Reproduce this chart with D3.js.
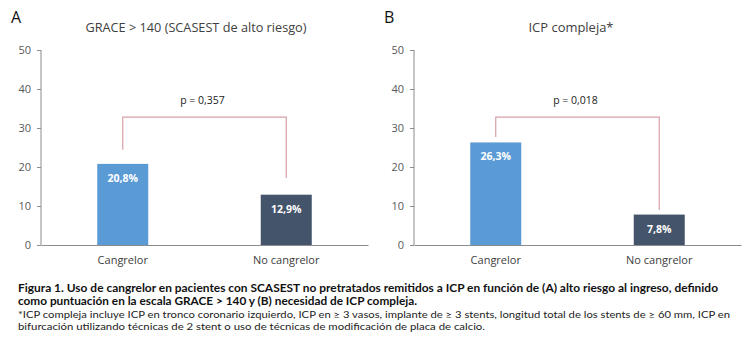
<!DOCTYPE html>
<html><head><meta charset="utf-8">
<script src="https://cdn.jsdelivr.net/npm/d3@7"></script>
<style>body{margin:0;background:#fff;} svg{display:block;font-family:"Open Sans",sans-serif;}</style>
</head><body>
<svg id="c" width="750" height="342"></svg>
<script>
const panelLetters = ["A", "B"];
const panelTitles = ["GRACE > 140 (SCASEST de alto riesgo)", "ICP compleja*"];
const categories = ["Cangrelor", "No cangrelor"];
const valuesA = [20.8, 12.9];
const valuesB = [26.3, 7.8];
const labelsA = ["20,8%", "12,9%"];
const labelsB = ["26,3%", "7,8%"];
const pLabels = ["p = 0,357", "p = 0,018"];
const bracketTop = [32.8, 32.8];
const bracketLegsA = [24.4, 17.2];
const bracketLegsB = [27.7, 9.0];
const yTicks = [0, 10, 20, 30, 40, 50];
const captionBold = [
  "Figura 1. Uso de cangrelor en pacientes con SCASEST no pretratados remitidos a ICP en función de (A) alto riesgo al ingreso, definido",
  "como puntuación en la escala GRACE > 140 y (B) necesidad de ICP compleja."
];
const captionNormal = [
  "*ICP compleja incluye ICP en tronco coronario izquierdo, ICP en ≥ 3 vasos, implante de ≥ 3 stents, longitud total de los stents de ≥ 60 mm, ICP en",
  "bifurcación utilizando técnicas de 2 stent o uso de técnicas de modificación de placa de calcio."
];

const colors = ["#5B9BD5", "#44546A"];
const svg = d3.select("#c");
const y = d3.scaleLinear().domain([0, 50]).range([245, 50]);
const x = d3.scaleBand().domain(categories).range([41, 368]).padding(0);
const barW = 51;

const panels = [
  {dx: 0, vals: valuesA, labs: labelsA, legs: bracketLegsA, titleX: 196, titleW: 221},
  {dx: 373, vals: valuesB, labs: labelsB, legs: bracketLegsB, titleX: 198, titleW: 85}
];

panels.forEach((p, i) => {
  const g = svg.append("g").attr("transform", `translate(${p.dx},0)`);
  g.append("text").attr("x", 11).attr("y", 23).attr("font-size", 16).attr("fill", "#111")
    .text(panelLetters[i]);
  g.append("text").attr("x", p.titleX).attr("y", 32).attr("text-anchor", "middle")
    .attr("font-size", 12.5).attr("fill", "#404040")
    .attr("textLength", p.titleW).attr("lengthAdjust", "spacingAndGlyphs")
    .text(panelTitles[i]);

  const yAxis = d3.axisLeft(y).tickValues(yTicks).tickSize(4).tickPadding(6).tickFormat(d3.format("d"));
  const ya = g.append("g").attr("transform", "translate(41,0)").call(yAxis);
  ya.select(".domain").attr("stroke", "#8c8c8c").attr("d", "M0,50V245");
  ya.selectAll(".tick line").attr("stroke", "#8c8c8c");
  ya.selectAll(".tick text").attr("fill", "#595959").attr("font-size", 11).attr("font-family", "Open Sans");

  const xAxis = d3.axisBottom(x).tickSize(0).tickPadding(11);
  const xa = g.append("g").attr("transform", "translate(0,245)").call(xAxis);
  xa.select(".domain").attr("stroke", "#8c8c8c");
  xa.selectAll(".tick text").attr("fill", "#404040").attr("font-size", 11).attr("font-family", "Open Sans");

  categories.forEach((c, j) => {
    const cx = x(c) + x.bandwidth() / 2;
    g.append("rect").attr("x", cx - barW / 2).attr("y", y(p.vals[j]))
      .attr("width", barW).attr("height", y(0) - y(p.vals[j])).attr("fill", colors[j]);
    g.append("text").attr("x", cx).attr("y", y(p.vals[j]) + 18).attr("text-anchor", "middle")
      .attr("font-size", 10.5).attr("font-weight", "bold").attr("fill", "#fff").text(p.labs[j]);
  });

  const c0 = x(categories[0]) + x.bandwidth() / 2;
  const c1 = x(categories[1]) + x.bandwidth() / 2;
  g.append("path")
    .attr("d", `M${c0},${y(p.legs[0])}V${y(bracketTop[i])}H${c1}V${y(p.legs[1])}`)
    .attr("fill", "none").attr("stroke", "#D8A0A8").attr("stroke-width", 1.2);
  g.append("text").attr("x", (c0 + c1) / 2 - 2).attr("y", 104).attr("text-anchor", "middle")
    .attr("font-size", 10.5).attr("fill", "#222").text(pLabels[i]);
});

const capB = [{t: captionBold[0], y: 292, w: 700}, {t: captionBold[1], y: 305, w: 399}];
capB.forEach(c => svg.append("text").attr("x", 18).attr("y", c.y).attr("font-size", 10.5)
  .attr("font-family", "Lato").attr("font-weight", "bold").attr("fill", "#111")
  .attr("textLength", c.w).attr("lengthAdjust", "spacingAndGlyphs").text(c.t));
const capN = [{t: captionNormal[0], y: 317.5, w: 712}, {t: captionNormal[1], y: 330, w: 467}];
capN.forEach(c => svg.append("text").attr("x", 18).attr("y", c.y).attr("font-size", 10.2)
  .attr("font-family", "Lato").attr("fill", "#222")
  .attr("textLength", c.w).attr("lengthAdjust", "spacingAndGlyphs").text(c.t));
</script>
</body></html>
